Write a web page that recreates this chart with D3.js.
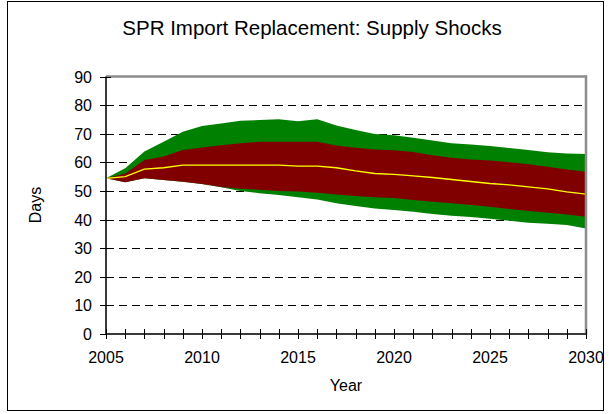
<!DOCTYPE html>
<html>
<head>
<meta charset="utf-8">
<script src="https://cdn.jsdelivr.net/npm/d3@7"></script>
<style>
  html, body { margin: 0; padding: 0; background: #fff; }
  svg { display: block; font-family: "Liberation Sans", Arial, sans-serif; }
</style>
</head>
<body>
<svg id="chart" width="611" height="414"></svg>
<script>
// Supply-shock import replacement, days of cover by year
const years = d3.range(2005, 2031);
const outerHigh = [54.4, 57.9, 63.8, 67.2, 70.7, 72.7, 73.6, 74.5, 74.8, 75.1, 74.4, 75.1, 72.9,
                   71.3, 69.9, 69.5, 68.6, 67.6, 66.7, 66.2, 65.7, 65.0, 64.3, 63.5, 63.1, 62.9];
const innerHigh = [54.4, 56.1, 60.8, 62.0, 64.3, 65.2, 66.0, 66.7, 67.2, 67.2, 67.2, 67.2, 65.9,
                   65.1, 64.5, 64.2, 63.6, 62.5, 61.6, 61.0, 60.6, 60.0, 59.3, 58.5, 57.5, 56.7];
const central   = [54.4, 55.0, 57.6, 58.1, 59.0, 59.0, 59.0, 59.0, 59.0, 59.0, 58.7, 58.7, 58.1,
                   57.0, 56.1, 55.8, 55.3, 54.7, 54.0, 53.3, 52.6, 52.1, 51.4, 50.7, 49.7, 48.9];
const innerLow  = [54.4, 53.0, 54.4, 53.8, 53.2, 52.4, 51.4, 50.8, 50.4, 50.0, 49.8, 49.4, 48.8,
                   48.2, 47.8, 47.5, 46.8, 46.2, 45.7, 45.1, 44.5, 43.7, 43.0, 42.4, 41.8, 41.0];
const outerLow  = [54.4, 53.0, 54.4, 53.8, 53.2, 52.4, 51.3, 50.0, 49.2, 48.6, 47.8, 47.0, 45.7,
                   44.7, 43.9, 43.3, 42.7, 41.9, 41.3, 40.9, 40.3, 39.6, 38.9, 38.5, 38.1, 36.9];
const yTicks = [0, 10, 20, 30, 40, 50, 60, 70, 80, 90];
const xLabels = [2005, 2010, 2015, 2020, 2025, 2030];

const svg = d3.select("#chart");
const plot = { left: 106, right: 586, top: 76.5, bottom: 334 };

const x = d3.scaleLinear().domain([2005, 2030]).range([plot.left, plot.right]);
const y = d3.scaleLinear().domain([0, 90]).range([plot.bottom, plot.top]);

// outer frame
svg.append("rect")
  .attr("x", 7.5).attr("y", 1.5).attr("width", 596).attr("height", 409)
  .attr("fill", "#fff").attr("stroke", "#000").attr("stroke-width", 1);

// title
svg.append("text")
  .attr("x", 312).attr("y", 35)
  .attr("text-anchor", "middle")
  .attr("font-size", 20.5).attr("fill", "#000")
  .text("SPR Import Replacement: Supply Shocks");

// dashed gridlines
svg.append("g")
  .selectAll("line")
  .data(yTicks.filter(v => v > 0 && v < 90))
  .join("line")
  .attr("x1", plot.left).attr("x2", plot.right)
  .attr("y1", d => Math.round(y(d)) + 0.5).attr("y2", d => Math.round(y(d)) + 0.5)
  .attr("stroke", "#000").attr("stroke-width", 1)
  .attr("stroke-dasharray", "8,5");

// bands
const band = (lo, hi) => d3.area()
  .x((d, i) => x(years[i]))
  .y0((d, i) => y(lo[i]))
  .y1((d, i) => y(hi[i]));

svg.append("path").datum(years)
  .attr("d", band(outerLow, outerHigh))
  .attr("fill", "#008000");

svg.append("path").datum(years)
  .attr("d", band(innerLow, innerHigh))
  .attr("fill", "#800000");

svg.append("path").datum(central)
  .attr("d", d3.line().x((d, i) => x(years[i])).y(d => y(d)))
  .attr("fill", "none").attr("stroke", "#ffff00").attr("stroke-width", 1.3);

// plot border (top and right)
svg.append("path")
  .attr("d", `M${plot.left},${plot.top}H${plot.right}V${plot.bottom}`)
  .attr("fill", "none").attr("stroke", "#8c8c8c").attr("stroke-width", 2.5);

// y axis
const yAxis = svg.append("g").attr("transform", `translate(${plot.left},0)`);
yAxis.append("line")
  .attr("x1", 0).attr("x2", 0).attr("y1", plot.top).attr("y2", plot.bottom)
  .attr("stroke", "#3a3a3a").attr("stroke-width", 2);
yAxis.selectAll("line.tick").data(yTicks).join("line")
  .attr("class", "tick")
  .attr("x1", -6).attr("x2", 5)
  .attr("y1", d => Math.round(y(d)) + 0.5).attr("y2", d => Math.round(y(d)) + 0.5)
  .attr("stroke", "#000").attr("stroke-width", 1);
yAxis.selectAll("text").data(yTicks).join("text")
  .attr("x", -14).attr("y", d => y(d) + 6)
  .attr("text-anchor", "end").attr("font-size", 16).attr("fill", "#000")
  .text(d => d);

// x axis
const xAxis = svg.append("g").attr("transform", `translate(0,${plot.bottom})`);
xAxis.append("line")
  .attr("x1", plot.left).attr("x2", plot.right).attr("y1", 0).attr("y2", 0)
  .attr("stroke", "#3a3a3a").attr("stroke-width", 2);
xAxis.selectAll("line.tick").data(years).join("line")
  .attr("class", "tick")
  .attr("x1", d => Math.round(x(d)) + 0.5).attr("x2", d => Math.round(x(d)) + 0.5)
  .attr("y1", -5).attr("y2", 5)
  .attr("stroke", "#000").attr("stroke-width", 1);
xAxis.selectAll("text").data(xLabels).join("text")
  .attr("x", d => x(d)).attr("y", 29)
  .attr("text-anchor", "middle").attr("font-size", 16).attr("fill", "#000")
  .text(d => d);

// axis titles
svg.append("text")
  .attr("x", 346).attr("y", 391)
  .attr("text-anchor", "middle").attr("font-size", 16).attr("fill", "#000")
  .text("Year");
svg.append("text")
  .attr("transform", "translate(41,205) rotate(-90)")
  .attr("text-anchor", "middle").attr("font-size", 16).attr("fill", "#000")
  .text("Days");
</script>
</body>
</html>
